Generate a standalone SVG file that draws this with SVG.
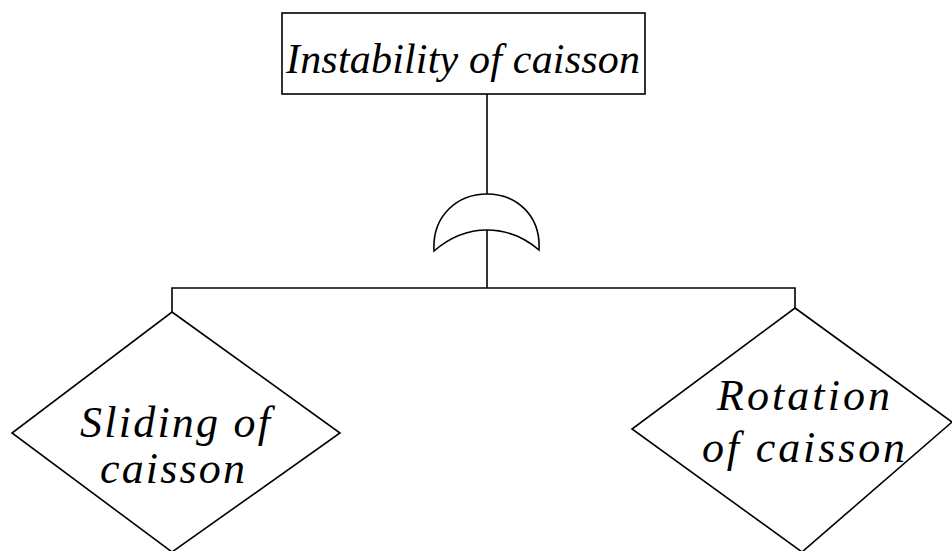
<svg xmlns="http://www.w3.org/2000/svg" width="952" height="551" viewBox="0 0 952 551">
<style>
.s{fill:#fff;stroke:#000;stroke-width:1.6}
.c{fill:none;stroke:#000;stroke-width:1.6}
.t{font-family:'Liberation Serif','DejaVu Serif',serif;font-style:italic;font-size:44px;fill:#000}
.h{font-size:42px}
</style>
<rect width="952" height="551" fill="#fff"/>
<g id="connectors">
<line class="c" x1="487" y1="94" x2="487" y2="194"/>
<line class="c" x1="487" y1="230" x2="487" y2="288"/>
<polyline class="c" points="172,312 172,288 795,288 795,308"/>
</g>
<g id="top">
<rect class="s" x="282" y="13" width="363" height="81"/>
<text class="t h" x="286" y="73" textLength="354" lengthAdjust="spacing">Instability of caisson</text>
</g>
<g id="orgate">
<path class="s" d="M434,251 C432,215 458,194 487,194 C516,194 541,215 539,250 C525,238 508,230 487,230 C466,230 449,238 434,251 Z"/>
</g>
<g id="sliding">
<polygon class="s" points="172,312 340,433 172,552 12,433"/>
<text class="t" x="80" y="437" textLength="190" lengthAdjust="spacing">Sliding of</text>
<text class="t" x="100" y="483" textLength="145" lengthAdjust="spacing">caisson</text>
</g>
<g id="rotation">
<polygon class="s" points="795,308 952,422 802,552 632,429"/>
<text class="t" x="717" y="410" textLength="173" lengthAdjust="spacing">Rotation</text>
<text class="t" x="702" y="462" textLength="203" lengthAdjust="spacing">of caisson</text>
</g>
</svg>
